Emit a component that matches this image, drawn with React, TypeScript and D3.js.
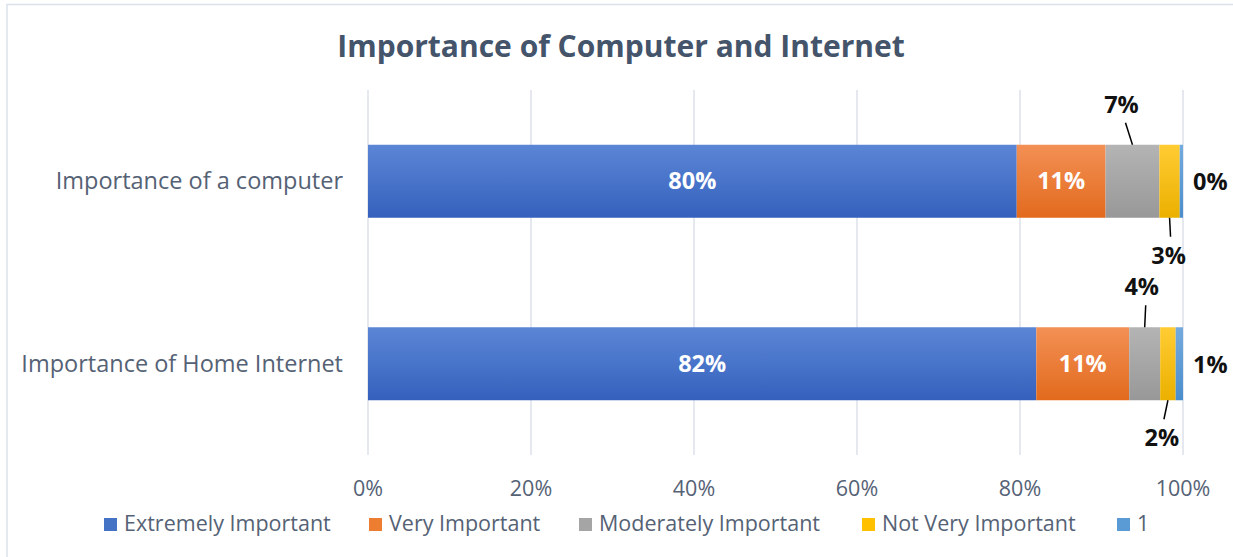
import React from "react";
import * as d3 from "d3";

const title = "Importance of Computer and Internet";
const categories = ["Importance of a computer", "Importance of Home Internet"];
const seriesNames = ["Extremely Important", "Very Important", "Moderately Important", "Not Very Important", "1"];
const extremely = [79.6, 82.0];
const very = [10.9, 11.4];
const moderately = [6.6, 3.8];
const notVery = [2.5, 1.9];
const one = [0.4, 0.9];
const xTicks = [0, 20, 40, 60, 80, 100];

const colors = ["#4472C4", "#ED7D31", "#A5A5A5", "#FFC000", "#5B9BD5"];
const lightColors = ["#5b86d6", "#f39055", "#b4b4b4", "#ffcc33", "#73abdf"];
const darkColors = ["#3561bd", "#e26a1d", "#989898", "#ebb000", "#4a8dcc"];

const W = 1233;
const H = 557;
const FONT = "'Open Sans', Lato, sans-serif";
const TEXT = "#556275";

export default function App() {
  const values = [extremely, very, moderately, notVery, one];
  const x = d3.scaleLinear().domain([0, 100]).range([368, 1183]);
  const y = d3.scaleBand().domain(categories).range([90, 455]).paddingInner(0.6).paddingOuter(0.3);
  const table = categories.map((c, i) => {
    const row: any = { cat: c };
    seriesNames.forEach((s, k) => (row[s] = values[k][i]));
    return row;
  });
  const stacked = d3.stack().keys(seriesNames)(table);
  const bw = y.bandwidth();

  const mode = ["inside", "inside", "above", "below", "right"];
  const aboveOffsets = [[-11, 0], [-3, 0]];
  const belowOffsets = [[2, 0], [-3, 0]];

  const legendX = [104, 369, 579, 862, 1117];
  const LBL = 23.5;

  return (
    <svg width={W} height={H} style={{ position: "absolute", left: 0, top: 0, background: "#fff" }}>
      <defs>
        {colors.map((c, k) => (
          <linearGradient key={k} id={`g${k}`} x1="0" y1="0" x2="0" y2="1">
            <stop offset="0" stopColor={lightColors[k]} />
            <stop offset="1" stopColor={darkColors[k]} />
          </linearGradient>
        ))}
      </defs>
      <rect x={7} y={4.5} width={W} height={H} fill="#fff" stroke="#dbe1ea" strokeWidth={1.5} />
      <text x={621} y={57} textAnchor="middle" fontFamily={FONT} fontWeight={700} fontSize={30} fill="#44546A">
        {title}
      </text>
      {xTicks.map((t) => (
        <g key={t}>
          <line x1={x(t)} x2={x(t)} y1={90} y2={455} stroke="#dde2ea" strokeWidth={1.5} />
          <text x={x(t)} y={496} textAnchor="middle" fontFamily={FONT} fontSize={21.5} fill={TEXT}>
            {t}%
          </text>
        </g>
      ))}
      {categories.map((c) => (
        <text key={c} x={343} y={(y(c) as number) + bw / 2 + 8} textAnchor="end" fontFamily={FONT} fontSize={23.5} fill={TEXT}>
          {c}
        </text>
      ))}
      {stacked.map((s, k) => (
        <g key={s.key}>
          {s.map((d, i) => (
            <rect
              key={i}
              x={x(d[0])}
              y={y(categories[i]) as number}
              width={x(d[1]) - x(d[0])}
              height={bw}
              fill={`url(#g${k})`}
            />
          ))}
        </g>
      ))}
      {stacked.map((s, k) =>
        s.map((d, i) => {
          const v = d[1] - d[0];
          const lbl = `${Math.round(v)}%`;
          const top = y(categories[i]) as number;
          const cx = (x(d[0]) + x(d[1])) / 2;
          const cy = top + bw / 2;
          if (mode[k] === "inside") {
            return (
              <text key={`${k}-${i}`} x={cx} y={cy + 8} textAnchor="middle" fontFamily={FONT} fontWeight={700} fontSize={LBL} fill="#fff">
                {lbl}
              </text>
            );
          }
          if (mode[k] === "above") {
            const lx = cx + aboveOffsets[i][0];
            return (
              <g key={`${k}-${i}`}>
                <line x1={cx} y1={top} x2={lx + 4} y2={top - 22} stroke="#000" strokeWidth={1.5} />
                <text x={lx} y={top - 32} textAnchor="middle" fontFamily={FONT} fontWeight={700} fontSize={LBL} fill="#111">
                  {lbl}
                </text>
              </g>
            );
          }
          if (mode[k] === "below") {
            const lx = cx + belowOffsets[i][0];
            return (
              <g key={`${k}-${i}`}>
                <line x1={cx} y1={top + bw} x2={lx - 1} y2={top + bw + 19} stroke="#000" strokeWidth={1.5} />
                <text x={lx - 3} y={top + bw + 46} textAnchor="middle" fontFamily={FONT} fontWeight={700} fontSize={LBL} fill="#111">
                  {lbl}
                </text>
              </g>
            );
          }
          return (
            <text key={`${k}-${i}`} x={x(d[1]) + 10} y={cy + 9} textAnchor="start" fontFamily={FONT} fontWeight={700} fontSize={LBL} fill="#111">
              {lbl}
            </text>
          );
        })
      )}
      {seriesNames.map((s, k) => (
        <g key={s}>
          <rect x={legendX[k]} y={518} width={13} height={13} fill={colors[k]} />
          <text x={legendX[k] + 20} y={531} fontFamily={FONT} fontSize={21.5} fill={TEXT}>
            {s}
          </text>
        </g>
      ))}
    </svg>
  );
}
